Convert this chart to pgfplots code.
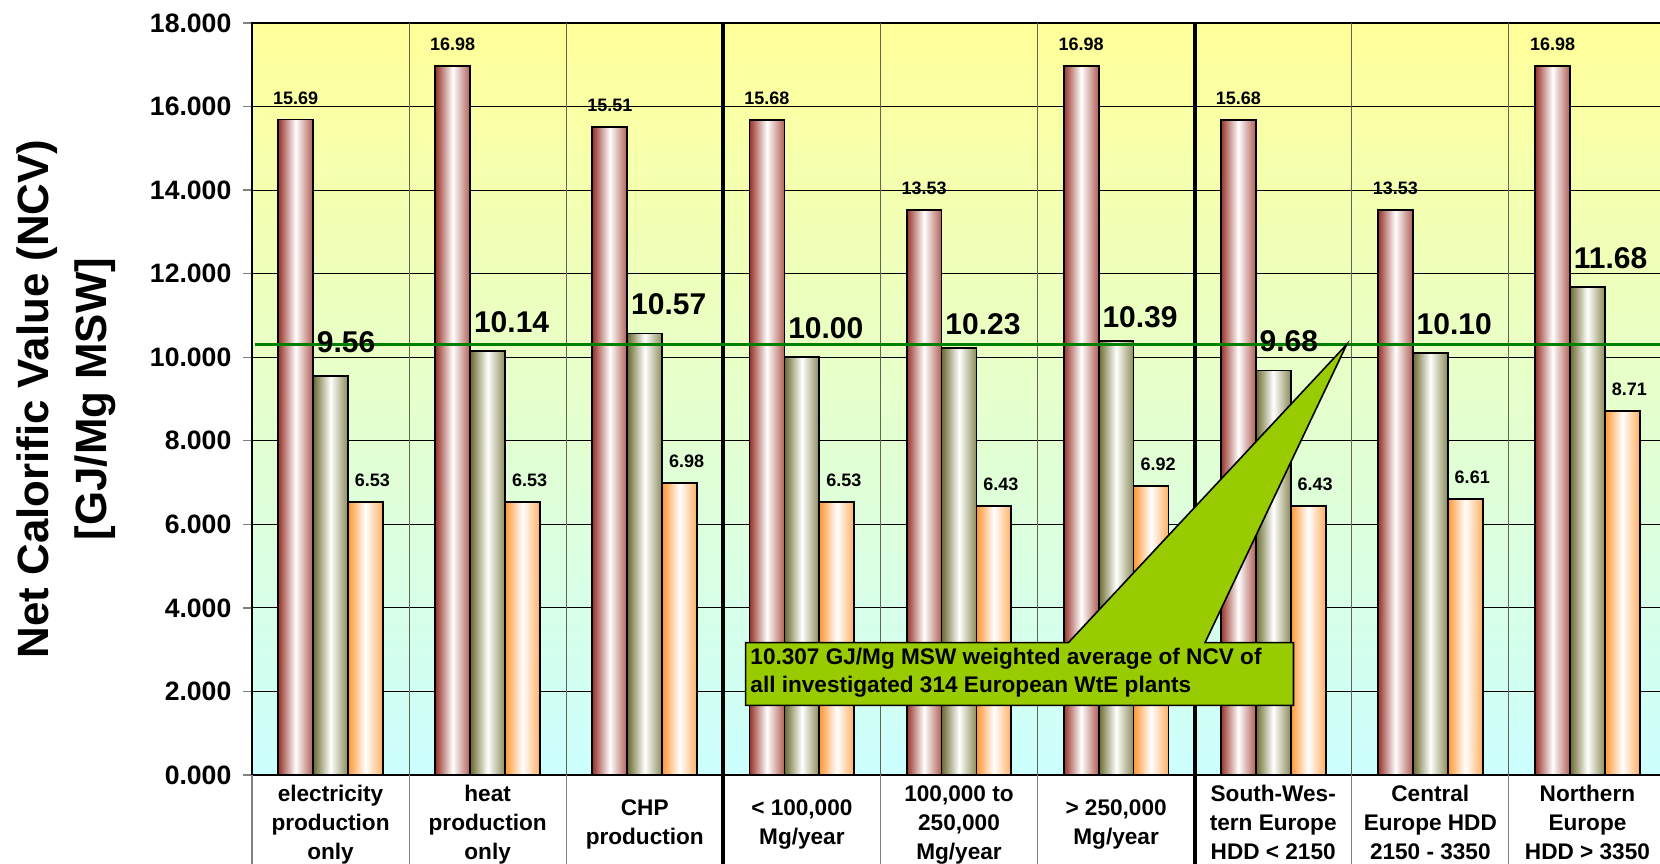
\documentclass[border=0pt]{standalone}
\usepackage{pgfplots}
\usepackage{pgfplotstable}
\pgfplotsset{compat=1.18}
\usepackage{fontspec}
\setmainfont{Liberation Sans}
\definecolor{bgtop}{RGB}{255,255,153}
\definecolor{bgbot}{RGB}{204,255,255}
\definecolor{sa}{RGB}{150,50,40}
\definecolor{sar}{RGB}{175,95,85}
\definecolor{sb}{RGB}{105,105,45}
\definecolor{sbr}{RGB}{140,140,90}
\definecolor{sc}{RGB}{255,150,50}
\definecolor{scr}{RGB}{255,175,100}
\definecolor{avg}{RGB}{0,128,0}
\definecolor{callout}{RGB}{153,204,0}
\definecolor{sepin}{RGB}{100,100,80}

\pgfplotstableread{
x a b c
0 15.69 9.56 6.53
1 16.98 10.14 6.53
2 15.51 10.57 6.98
3 15.68 10.00 6.53
4 13.53 10.23 6.43
5 16.98 10.39 6.92
6 15.68 9.68 6.43
7 13.53 10.10 6.61
8 16.98 11.68 8.71
}\data

\pgfplotsset{
  barbase/.style={ybar, bar width=17.46pt, draw=black, line width=0.9pt, point meta=y,
    nodes near coords={\pgfmathprintnumber[fixed,fixed zerofill,precision=2]{\pgfplotspointmeta}}},
  sera/.style={barbase, bar shift=-17.46pt, left color=sa, right color=sar, middle color=white,
    nodes near coords style={anchor=base, inner sep=0pt, xshift=-17.46pt, yshift=7.75pt, text=black,
    font=\bfseries\fontsize{9}{10}\selectfont}},
  serb/.style={barbase, bar shift=0pt, left color=sb, right color=sbr, middle color=white,
    nodes near coords style={anchor=base west, inner sep=0pt, xshift=-7.25pt, yshift=9.5pt, text=black,
    font=\bfseries\fontsize{15}{17}\selectfont}},
  serc/.style={barbase, bar shift=17.46pt, left color=sc, right color=scr, middle color=white,
    nodes near coords style={anchor=base, inner sep=0pt, xshift=20.96pt, yshift=7.75pt, text=black,
    font=\bfseries\fontsize{9}{10}\selectfont}},
}

\begin{document}
\begin{tikzpicture}
\begin{axis}[
  scale only axis, width=707pt, height=376pt,
  xmin=-0.5, xmax=8.5, ymin=0, ymax=18,
  enlargelimits=false, clip=false,
  axis line style={line width=1.4pt, black},
  axis background/.style={shade, top color=bgtop, bottom color=bgbot},
  ytick={0,2,...,18},
  ymajorgrids, y grid style={black, line width=0.5pt},
  tick align=outside, major tick length=4.5pt,
  ytick pos=left,
  ytick style={draw=gray, line width=0.7pt},
  xtick style={draw=none},
  /pgf/number format/assume math mode=true,
  yticklabel style={font=\bfseries\fontsize{13.3}{15}\selectfont,
    /pgf/number format/fixed, /pgf/number format/fixed zerofill,
    /pgf/number format/precision=3, xshift=-2.3pt},
  xtick={0,...,8},
  xticklabels={{electricity\\production\\only},{heat\\production\\only},{CHP\\production},{< 100,000\\Mg/year},{100,000 to\\250,000\\Mg/year},{> 250,000\\Mg/year},{South-Wes-\\tern Europe\\HDD < 2150\vphantom{g}},{Central\\Europe HDD\\2150 - 3350\vphantom{g}},{Northern\\Europe\\HDD > 3350\vphantom{g}}},
  xticklabel style={anchor=center, align=center, yshift=-20.3pt,
    font=\bfseries\fontsize{11.3}{14.5}\selectfont},
  ylabel={Net Calorific Value (NCV)\\{}[GJ/Mg MSW]},
  ylabel style={at={(axis description cs:-0.1315,0.5)}, anchor=center, align=center,
    font=\bfseries\fontsize{21.9}{29}\selectfont},
]
% category separators
\pgfplotsinvokeforeach{0.5,1.5,3.5,4.5,6.5,7.5}{
  \draw[sepin, line width=0.6pt] (axis cs:#1,18) -- (axis cs:#1,0);
  \draw[gray, line width=0.6pt] (axis cs:#1,0) -- ++(0pt,-46pt);
}
\draw[gray, line width=0.6pt] (axis cs:-0.5,0) -- ++(0pt,-46pt);
\pgfplotsinvokeforeach{2.5,5.5}{
  \draw[black, line width=2pt] (axis cs:#1,18) -- (axis cs:#1,0) -- ++(0pt,-46pt);
}

\pgfplotsinvokeforeach{0,...,8}{
  \addplot[sera, restrict x to domain=#1:#1] table[x=x, y=a] {\data};
  \addplot[serc, restrict x to domain=#1:#1] table[x=x, y=c] {\data};
}
\pgfplotsinvokeforeach{1,2,3,6,7,8}{
  \addplot[serb, restrict x to domain=#1:#1] table[x=x, y=b] {\data};
}
\addplot[serb, restrict x to domain=0:0, every node near coord/.append style={yshift=2pt}] table[x=x, y=b] {\data};
\pgfplotsinvokeforeach{4,5}{
  \addplot[serb, restrict x to domain=#1:#1, every node near coord/.append style={yshift=-3pt}] table[x=x, y=b] {\data};
}

% weighted average line
\draw[avg, line width=1.6pt] (axis cs:-0.48,10.307) -- (axis cs:8.5,10.307);

% callout
\draw[fill=callout, line width=0.8pt] (axis cs:2.642,1.668) -- (axis cs:2.642,3.167)
  -- (axis cs:4.696,3.167) -- (axis cs:6.468,10.307) -- (axis cs:5.566,3.167)
  -- (axis cs:6.129,3.167) -- (axis cs:6.129,1.668) -- cycle;
\node[anchor=base west, inner sep=0pt, xshift=2.2pt, font=\bfseries\fontsize{11.3}{13}\selectfont]
  at (axis cs:2.642,2.65) {10.307 GJ/Mg MSW weighted average of NCV of};
\node[anchor=base west, inner sep=0pt, xshift=2.2pt, font=\bfseries\fontsize{11.3}{13}\selectfont]
  at (axis cs:2.642,1.97) {all investigated 314 European WtE plants};
\end{axis}
\pgfresetboundingbox
\path[use as bounding box] ([shift={(-126pt,-44pt)}]current axis.south west) rectangle ([shift={(704pt,387.5pt)}]current axis.south west);
\end{tikzpicture}
\end{document}
